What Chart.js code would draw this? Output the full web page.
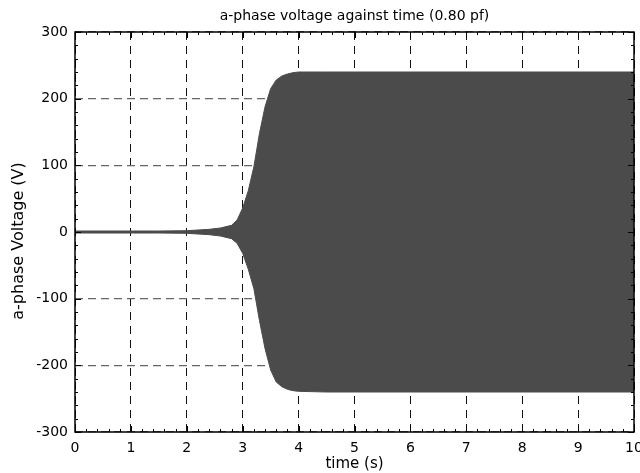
<!DOCTYPE html>
<html>
<head>
<meta charset="utf-8">
<script src="https://cdn.jsdelivr.net/npm/chart.js@4.4.1/dist/chart.umd.min.js"></script>
<style>
  html, body { margin: 0; padding: 0; background: #fff; }
  #wrap { width: 640px; height: 473px; }
</style>
</head>
<body>
<div id="wrap"><canvas id="voltageChart" width="640" height="473"></canvas></div>
<script>
// envelope of the a-phase voltage waveform
const timeValues = [0, 0.5, 1, 1.5, 2, 2.2, 2.4, 2.6, 2.8, 2.9, 3.0, 3.1, 3.2, 3.3, 3.4, 3.5, 3.6, 3.7, 3.8, 3.9, 4.0, 4.5, 5, 6, 7, 8, 9, 10];
const upperVoltage = [1.5, 1.5, 1.5, 1.5, 2, 3, 4, 6, 10, 18, 36, 62, 98, 148, 188, 215, 228, 234, 237, 239, 240, 240, 240, 240, 240, 240, 240, 240];
const lowerVoltage = [-1.5, -1.5, -1.5, -1.5, -2, -3, -4, -6, -10, -17, -32, -56, -85, -133, -175, -207, -225, -232, -236, -238, -239, -240, -240, -240, -240, -240, -240, -240];
const xTicks = [0, 1, 2, 3, 4, 5, 6, 7, 8, 9, 10];
const yTicks = [-300, -200, -100, 0, 100, 200, 300];

const chartTitle = 'a-phase voltage against time (0.80 pf)';
const yTitle = 'a-phase Voltage (V)';
const waveColor = '#4b4b4b';
const fontFamily = 'DejaVu Sans, Liberation Sans, Arial';

const frameAndTicks = {
    id: 'frameAndTicks',
    afterDatasetsDraw(chart) {
        const ctx = chart.ctx;
        const area = chart.chartArea;
        const xs = chart.scales.x;
        const ys = chart.scales.y;
        ctx.save();
        ctx.strokeStyle = '#000';
        ctx.lineWidth = 1;
        // x ticks (major + minor), pointing inward on bottom and top
        for (let i = 0; i <= 50; i++) {
            const px = Math.round(xs.getPixelForValue(i * 0.2)) + 0.5;
            const len = (i % 5 === 0) ? 6 : 3;
            ctx.beginPath();
            ctx.moveTo(px, area.bottom);
            ctx.lineTo(px, area.bottom - len);
            ctx.moveTo(px, area.top);
            ctx.lineTo(px, area.top + len);
            ctx.stroke();
        }
        // y ticks, inward on left and right
        for (let i = 0; i <= 30; i++) {
            const py = Math.round(ys.getPixelForValue(-300 + i * 20)) + 0.5;
            const len = (i % 5 === 0) ? 6 : 3;
            ctx.beginPath();
            ctx.moveTo(area.left, py);
            ctx.lineTo(area.left + len, py);
            ctx.moveTo(area.right, py);
            ctx.lineTo(area.right - len, py);
            ctx.stroke();
        }
        ctx.lineWidth = 1.5;
        ctx.strokeRect(area.left, area.top, area.right - area.left, area.bottom - area.top);

        // titles, centred on the plot area rather than the canvas
        ctx.fillStyle = '#000';
        ctx.textAlign = 'center';
        ctx.textBaseline = 'middle';
        ctx.font = '14px ' + fontFamily;
        ctx.fillText(chartTitle, (area.left + area.right) / 2, 16);
        ctx.translate(19, (area.top + area.bottom) / 2 + 9);
        ctx.rotate(-Math.PI / 2);
        ctx.font = '16px ' + fontFamily;
        ctx.fillText(yTitle, 0, 0);
        ctx.restore();
    }
};

const ctx = document.getElementById('voltageChart').getContext('2d');
new Chart(ctx, {
    type: 'line',
    data: {
        datasets: [{
            label: 'upper',
            data: timeValues.map((t, i) => ({x: t, y: upperVoltage[i]})),
            borderColor: waveColor,
            borderWidth: 1,
            pointRadius: 0,
            fill: false
        }, {
            label: 'lower',
            data: timeValues.map((t, i) => ({x: t, y: lowerVoltage[i]})),
            borderColor: waveColor,
            borderWidth: 1,
            pointRadius: 0,
            backgroundColor: waveColor,
            fill: '-1'
        }]
    },
    options: {
        responsive: false,
        animation: false,
        layout: { padding: { left: 0, right: 6, top: 32, bottom: 0 } },
        plugins: {
            legend: { display: false },
            tooltip: { enabled: false },
            title: { display: false }
        },
        scales: {
            x: {
                type: 'linear',
                min: 0,
                max: 10,
                afterBuildTicks: (scale) => { scale.ticks = xTicks.map(v => ({value: v})); },
                afterFit: (scale) => {
                    scale.height = 41;
                    scale.paddingLeft = 0;
                    scale.paddingRight = 0;
                },
                grid: { color: '#111', lineWidth: 1, drawTicks: false },
                border: { display: false, dash: [8, 6] },
                ticks: {
                    color: '#000',
                    padding: 8,
                    maxRotation: 0,
                    font: { family: fontFamily, size: 14 }
                },
                title: {
                    display: true,
                    text: 'time (s)',
                    color: '#000',
                    padding: { top: 0, bottom: 0 },
                    font: { family: fontFamily, size: 15 }
                }
            },
            y: {
                type: 'linear',
                min: -300,
                max: 300,
                afterBuildTicks: (scale) => { scale.ticks = yTicks.map(v => ({value: v})); },
                afterFit: (scale) => {
                    scale.width = 75;
                    scale.paddingTop = 0;
                    scale.paddingBottom = 0;
                },
                grid: { color: '#666', lineWidth: 1.3, drawTicks: false },
                border: { display: false, dash: [8, 5] },
                ticks: {
                    color: '#000',
                    padding: 7,
                    font: { family: fontFamily, size: 14 }
                },
                title: { display: false }
            }
        }
    },
    plugins: [frameAndTicks]
});
</script>
</body>
</html>
